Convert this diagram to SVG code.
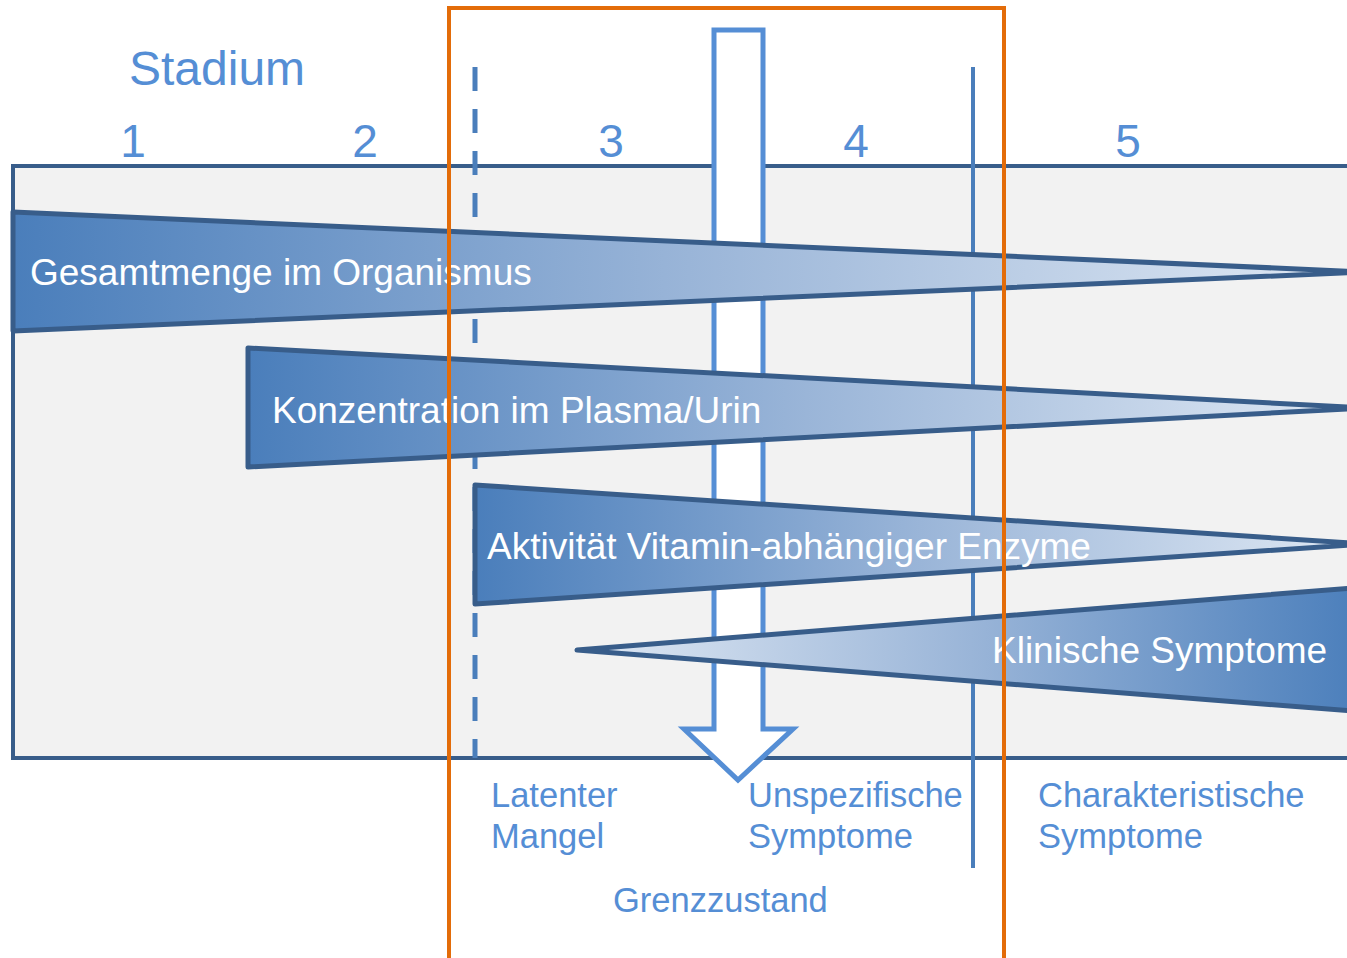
<svg xmlns="http://www.w3.org/2000/svg" width="1347" height="958" viewBox="0 0 1347 958">
<style>
.lbl{font-family:"Liberation Sans",Arial,sans-serif;fill:#558ed5}
.tri-t{font-family:"Liberation Sans",Arial,sans-serif;fill:#ffffff;font-size:37px}
.tri{stroke:#385d8a;stroke-width:5;stroke-linejoin:round}
</style>
<defs>
<linearGradient id="gR" x1="0" y1="0" x2="1" y2="0">
<stop offset="0" stop-color="#4a7ebb"/>
<stop offset="0.5" stop-color="#9ab5d8"/>
<stop offset="1" stop-color="#e0e9f4"/>
</linearGradient>
<linearGradient id="gL" x1="0" y1="0" x2="1" y2="0">
<stop offset="0" stop-color="#e0e9f4"/>
<stop offset="0.5" stop-color="#9ab5d8"/>
<stop offset="1" stop-color="#4a7ebb"/>
</linearGradient>
</defs>
<rect width="1347" height="958" fill="#ffffff"/>
<g id="panel">
<rect x="13" y="166" width="1350" height="592" fill="#f2f2f2" stroke="#385d8a" stroke-width="4"/>
</g>
<g id="connectors">
<line id="dashed" x1="475" y1="67" x2="475" y2="758" stroke="#4a7ebb" stroke-width="5" stroke-dasharray="24 18"/>
<line id="solid" x1="973" y1="67" x2="973" y2="868" stroke="#4a7ebb" stroke-width="4"/>
<polygon id="arrow" points="714,30 763,30 763,729 793,729 738,780 684,729 714,729" fill="#ffffff" stroke="#558ed5" stroke-width="5"/>
</g>
<g id="t1">
<polygon class="tri" points="13,212 1365,272 13,331" fill="url(#gR)"/>
<text class="tri-t" x="30" y="285">Gesamtmenge im Organismus</text>
</g>
<g id="t2">
<polygon class="tri" points="248,348 1365,408 248,467" fill="url(#gR)"/>
<text class="tri-t" x="272" y="423">Konzentration im Plasma/Urin</text>
</g>
<g id="t3">
<polygon class="tri" points="475,485 1365,544 475,604" fill="url(#gR)"/>
<text class="tri-t" x="487" y="559">Aktivität Vitamin-abhängiger Enzyme</text>
</g>
<g id="t4">
<polygon class="tri" points="577,650 1365,587 1365,712" fill="url(#gL)"/>
<text class="tri-t" x="992" y="663">Klinische Symptome</text>
</g>
<g id="labels">
<text class="lbl" x="129" y="85" font-size="48">Stadium</text>
<text class="lbl" x="133" y="157" font-size="46" text-anchor="middle">1</text>
<text class="lbl" x="365" y="157" font-size="46" text-anchor="middle">2</text>
<text class="lbl" x="611" y="157" font-size="46" text-anchor="middle">3</text>
<text class="lbl" x="856" y="157" font-size="46" text-anchor="middle">4</text>
<text class="lbl" x="1128" y="157" font-size="46" text-anchor="middle">5</text>
<text class="lbl" x="491" y="807" font-size="34.5">Latenter</text>
<text class="lbl" x="491" y="848" font-size="34.5">Mangel</text>
<text class="lbl" x="748" y="807" font-size="34.5">Unspezifische</text>
<text class="lbl" x="748" y="848" font-size="34.5">Symptome</text>
<text class="lbl" x="1038" y="807" font-size="34.5">Charakteristische</text>
<text class="lbl" x="1038" y="848" font-size="34.5">Symptome</text>
<text class="lbl" x="613" y="912" font-size="34.5">Grenzzustand</text>
</g>
<g id="frame">
<rect x="449" y="8" width="555" height="960" fill="none" stroke="#e36c09" stroke-width="4"/>
</g>
</svg>
